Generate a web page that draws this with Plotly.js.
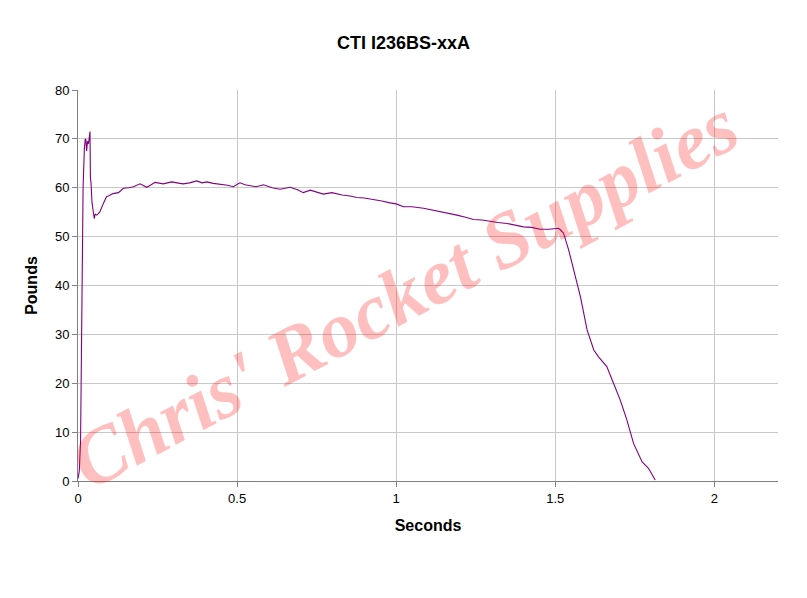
<!DOCTYPE html>
<html>
<head>
<meta charset="utf-8">
<script src="https://cdn.plot.ly/plotly-3.0.1.min.js"></script>
<style>html,body{margin:0;padding:0;background:#fff;}#chart{width:807px;height:598px;}</style>
</head>
<body>
<div id="chart"></div>
<script>
const timeSec = [0, 0.004, 0.008, 0.011, 0.0126, 0.016, 0.02, 0.023, 0.025, 0.027, 0.03, 0.033, 0.036, 0.0377, 0.039, 0.041, 0.044, 0.048, 0.051, 0.054, 0.0587, 0.064, 0.069, 0.0797, 0.09, 0.0954, 0.11, 0.127, 0.1426, 0.16, 0.174, 0.195, 0.216, 0.23, 0.242, 0.268, 0.289, 0.2946, 0.32, 0.331, 0.35, 0.373, 0.39, 0.405, 0.425, 0.45, 0.47, 0.488, 0.509, 0.525, 0.541, 0.56, 0.583, 0.61, 0.635, 0.667, 0.69, 0.708, 0.73, 0.75, 0.771, 0.798, 0.83, 0.855, 0.876, 0.9, 0.929, 0.955, 0.981, 1.0, 1.023, 1.05, 1.086, 1.11, 1.138, 1.165, 1.191, 1.215, 1.243, 1.27, 1.296, 1.32, 1.348, 1.375, 1.4, 1.425, 1.453, 1.48, 1.505, 1.51, 1.516, 1.526, 1.542, 1.558, 1.579, 1.6, 1.621, 1.636, 1.662, 1.683, 1.704, 1.725, 1.746, 1.773, 1.793, 1.814];
const thrustLb = [0.5, 2, 8, 25, 45, 60, 68, 70, 69.8, 67.5, 69.5, 69, 70.5, 71.5, 62, 60.9, 57, 54.8, 53.7, 54.6, 54.4, 54.7, 55.1, 56.8, 58.2, 58.3, 58.8, 59.0, 59.9, 60.0, 60.2, 60.8, 60.1, 60.6, 61.1, 60.8, 61.1, 61.2, 60.9, 60.8, 61.0, 61.4, 61.0, 61.2, 60.9, 60.7, 60.5, 60.2, 61.0, 60.6, 60.4, 60.2, 60.6, 60.0, 59.7, 60.1, 59.6, 59.0, 59.5, 59.1, 58.7, 59.0, 58.5, 58.3, 58.0, 57.9, 57.6, 57.3, 56.9, 56.7, 56.1, 56.1, 55.8, 55.5, 55.1, 54.8, 54.4, 54.0, 53.5, 53.4, 53.1, 52.9, 52.7, 52.3, 52.0, 51.9, 51.5, 51.5, 51.7, 51.7, 51.4, 50.7, 47.3, 43.2, 37.7, 30.9, 26.8, 25.4, 23.4, 20.0, 16.6, 12.5, 7.7, 3.9, 2.6, 0.2];

const xTicks = [0, 0.5, 1, 1.5, 2];
const xTickText = ['0', '0.5', '1', '1.5', '2'];
const yTicks = [0, 10, 20, 30, 40, 50, 60, 70, 80];

const chartTitle = 'CTI I236BS-xxA';
const xTitle = 'Seconds';
const yTitle = 'Pounds';
const watermark = "Chris' Rocket Supplies";

const trace = {
  x: timeSec, y: thrustLb, type: 'scatter', mode: 'lines',
  line: {color: '#800080', width: 1.1}, hoverinfo: 'none'
};

const layout = {
  width: 807, height: 598,
  margin: {l: 78, r: 29, t: 90, b: 117},
  paper_bgcolor: '#ffffff', plot_bgcolor: '#ffffff',
  showlegend: false,
  font: {family: 'Liberation Sans, Arial, sans-serif', color: '#000'},
  title: {text: '<b>' + chartTitle + '</b>', x: 0.5, xref: 'container', xanchor: 'center', y: 0.928, yref: 'container', yanchor: 'middle', font: {size: 18, color: '#000'}},
  xaxis: {
    range: [0, 2.2], tickvals: xTicks, ticktext: xTickText,
    showgrid: true, gridcolor: '#c8c8c8', gridwidth: 1,
    showline: true, linecolor: '#808080', linewidth: 1,
    ticks: 'outside', ticklen: 5, tickcolor: '#808080',
    tickfont: {size: 13}, zeroline: false,
    title: {text: '<b>' + xTitle + '</b>', font: {size: 16}, standoff: 15}
  },
  yaxis: {
    range: [0, 80], tickvals: yTicks,
    showgrid: true, gridcolor: '#c8c8c8', gridwidth: 1,
    showline: true, linecolor: '#808080', linewidth: 1,
    ticks: 'outside', ticklen: 5, tickcolor: '#808080',
    tickfont: {size: 13}, zeroline: false,
    title: {text: '<b>' + yTitle + '</b>', font: {size: 16}, standoff: 13}
  },
  annotations: [{
    text: '<b><i>' + watermark + '</i></b>',
    xref: 'paper', yref: 'paper', x: 0.466, y: 0.48,
    showarrow: false, textangle: -28,
    font: {family: 'Liberation Serif, Times New Roman, serif', size: 79, color: 'rgba(255,0,0,0.25)'}
  }]
};

Plotly.newPlot('chart', [trace], layout, {staticPlot: true, displayModeBar: false});
</script>
</body>
</html>
